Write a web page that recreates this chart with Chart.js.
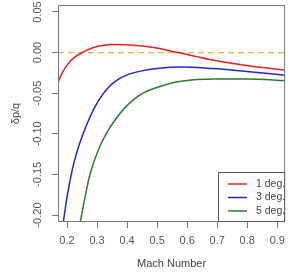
<!DOCTYPE html>
<html>
<head>
<meta charset="utf-8">
<script src="https://cdn.jsdelivr.net/npm/chart.js@4/dist/chart.umd.min.js"></script>
<style>
  html, body { margin: 0; padding: 0; background: #fff; }
  #wrap { width: 291px; height: 275px; }
</style>
</head>
<body>
<div id="wrap"><canvas id="dpChart"></canvas></div>
<script>
// Mach numbers and pressure-coefficient values
const mach1 = [0.17, 0.18, 0.193, 0.21, 0.226, 0.253, 0.29, 0.33, 0.357, 0.39, 0.422, 0.488, 0.569, 0.689, 0.798, 0.93];
const dp1 = [-0.037, -0.028, -0.0195, -0.011, -0.0055, 0.0005, 0.0065, 0.0093, 0.0099, 0.0097, 0.009, 0.0062, 0, -0.0095, -0.016, -0.0218];

const mach3 = [0.185, 0.19, 0.2, 0.213, 0.225, 0.24, 0.264, 0.29, 0.313, 0.34, 0.368, 0.4, 0.449, 0.5, 0.58, 0.689, 0.798, 0.93];
const dp3 = [-0.216, -0.203, -0.178, -0.152, -0.133, -0.114, -0.090, -0.069, -0.0545, -0.042, -0.0335, -0.0275, -0.0225, -0.0195, -0.0177, -0.0197, -0.0234, -0.028];

const mach5 = [0.24, 0.245, 0.26, 0.275, 0.29, 0.31, 0.335, 0.36, 0.39, 0.422, 0.45, 0.48, 0.537, 0.58, 0.689, 0.798, 0.93];
const dp5 = [-0.217, -0.207, -0.178, -0.152, -0.134, -0.115, -0.097, -0.083, -0.069, -0.058, -0.0505, -0.0455, -0.0386, -0.0352, -0.0325, -0.0324, -0.0345];

const seriesLabels = ['1 deg.', '3 deg.', '5 deg.'];
const xTicks = [0.2, 0.3, 0.4, 0.5, 0.6, 0.7, 0.8, 0.9];
const yTicks = [-0.2, -0.15, -0.1, -0.05, 0, 0.05];
const zeroLine = [0.17, 0.93];

const toPts = (xs, ys) => xs.map((x, i) => ({x: x, y: ys[i]}));
const textCol = '#555';
const fontFam = '"Liberation Sans", Arial, sans-serif';

// frame, rotated y tick labels and legend box
const rStyle = {
  id: 'rStyle',
  afterDraw(chart) {
    const ctx = chart.ctx;
    const a = chart.chartArea;
    const ys = chart.scales.y;
    ctx.save();
    ctx.strokeStyle = '#777';
    ctx.lineWidth = 1;
    ctx.strokeRect(a.left + 0.5, a.top + 0.5, a.right - a.left - 1, a.bottom - a.top - 1);

    ctx.fillStyle = textCol;
    ctx.font = '11px ' + fontFam;
    ctx.textAlign = 'center';
    ctx.textBaseline = 'middle';
    yTicks.forEach(v => {
      const py = ys.getPixelForValue(v);
      ctx.save();
      ctx.translate(38, py);
      ctx.rotate(-Math.PI / 2);
      ctx.fillText(v.toFixed(2), 0, 0);
      ctx.restore();
    });

    // legend
    const bx = 218, by = 172;
    ctx.fillStyle = '#fff';
    ctx.fillRect(bx, by, a.right - bx, a.bottom - by);
    ctx.strokeStyle = '#555';
    ctx.strokeRect(bx + 0.5, by + 0.5, a.right - bx - 1, a.bottom - by - 1);
    ctx.font = '10.5px ' + fontFam;
    ctx.textAlign = 'left';
    seriesLabels.forEach((lab, i) => {
      const ds = chart.data.datasets[i];
      const ly = 184 + i * 13.5;
      ctx.strokeStyle = ds.borderColor;
      ctx.lineWidth = 1.5;
      ctx.beginPath();
      ctx.moveTo(228, ly);
      ctx.lineTo(247, ly);
      ctx.stroke();
      ctx.fillStyle = '#444';
      ctx.fillText(lab, 256, ly);
    });
    ctx.restore();
  }
};

new Chart(document.getElementById('dpChart'), {
  type: 'line',
  data: {
    datasets: [
      { label: seriesLabels[0], data: toPts(mach1, dp1), borderColor: '#e02424' },
      { label: seriesLabels[1], data: toPts(mach3, dp3), borderColor: '#2424d0' },
      { label: seriesLabels[2], data: toPts(mach5, dp5), borderColor: '#2e7a2e' },
      { label: 'zero', data: zeroLine.map(x => ({x: x, y: 0})), borderColor: '#f2b040', borderDash: [6, 4], borderWidth: 1.2 }
    ]
  },
  options: {
    responsive: true,
    maintainAspectRatio: false,
    animation: false,
    layout: { padding: { top: 5, right: 2, left: 0, bottom: 0 } },
    elements: {
      point: { radius: 0 },
      line: { borderWidth: 1.5, cubicInterpolationMode: 'monotone', fill: false }
    },
    plugins: { legend: { display: false }, tooltip: { enabled: false } },
    scales: {
      x: {
        type: 'linear',
        min: 0.17,
        max: 0.926,
        afterBuildTicks: s => { s.ticks = xTicks.map(v => ({value: v})); },
        afterFit: s => { s.height = 53; },
        grid: { display: true, drawOnChartArea: false, drawTicks: true, tickLength: 6, color: '#777' },
        border: { display: false },
        ticks: { color: textCol, font: { family: fontFam, size: 11 }, padding: 6, maxRotation: 0, callback: v => v.toFixed(1) },
        title: { display: true, text: 'Mach Number', color: '#444', font: { family: fontFam, size: 11 }, padding: { top: 9 } }
      },
      y: {
        type: 'linear',
        min: -0.2086,
        max: 0.0586,
        afterBuildTicks: s => { s.ticks = yTicks.map(v => ({value: v})); },
        afterFit: s => { s.width = 58; },
        grid: { display: true, drawOnChartArea: false, drawTicks: true, tickLength: 6, color: '#777' },
        border: { display: false },
        ticks: { display: false },
        title: { display: true, text: 'δp/q', color: '#444', font: { family: fontFam, size: 11 }, padding: { top: 9, bottom: 0 } }
      }
    }
  },
  plugins: [rStyle]
});
</script>
</body>
</html>
